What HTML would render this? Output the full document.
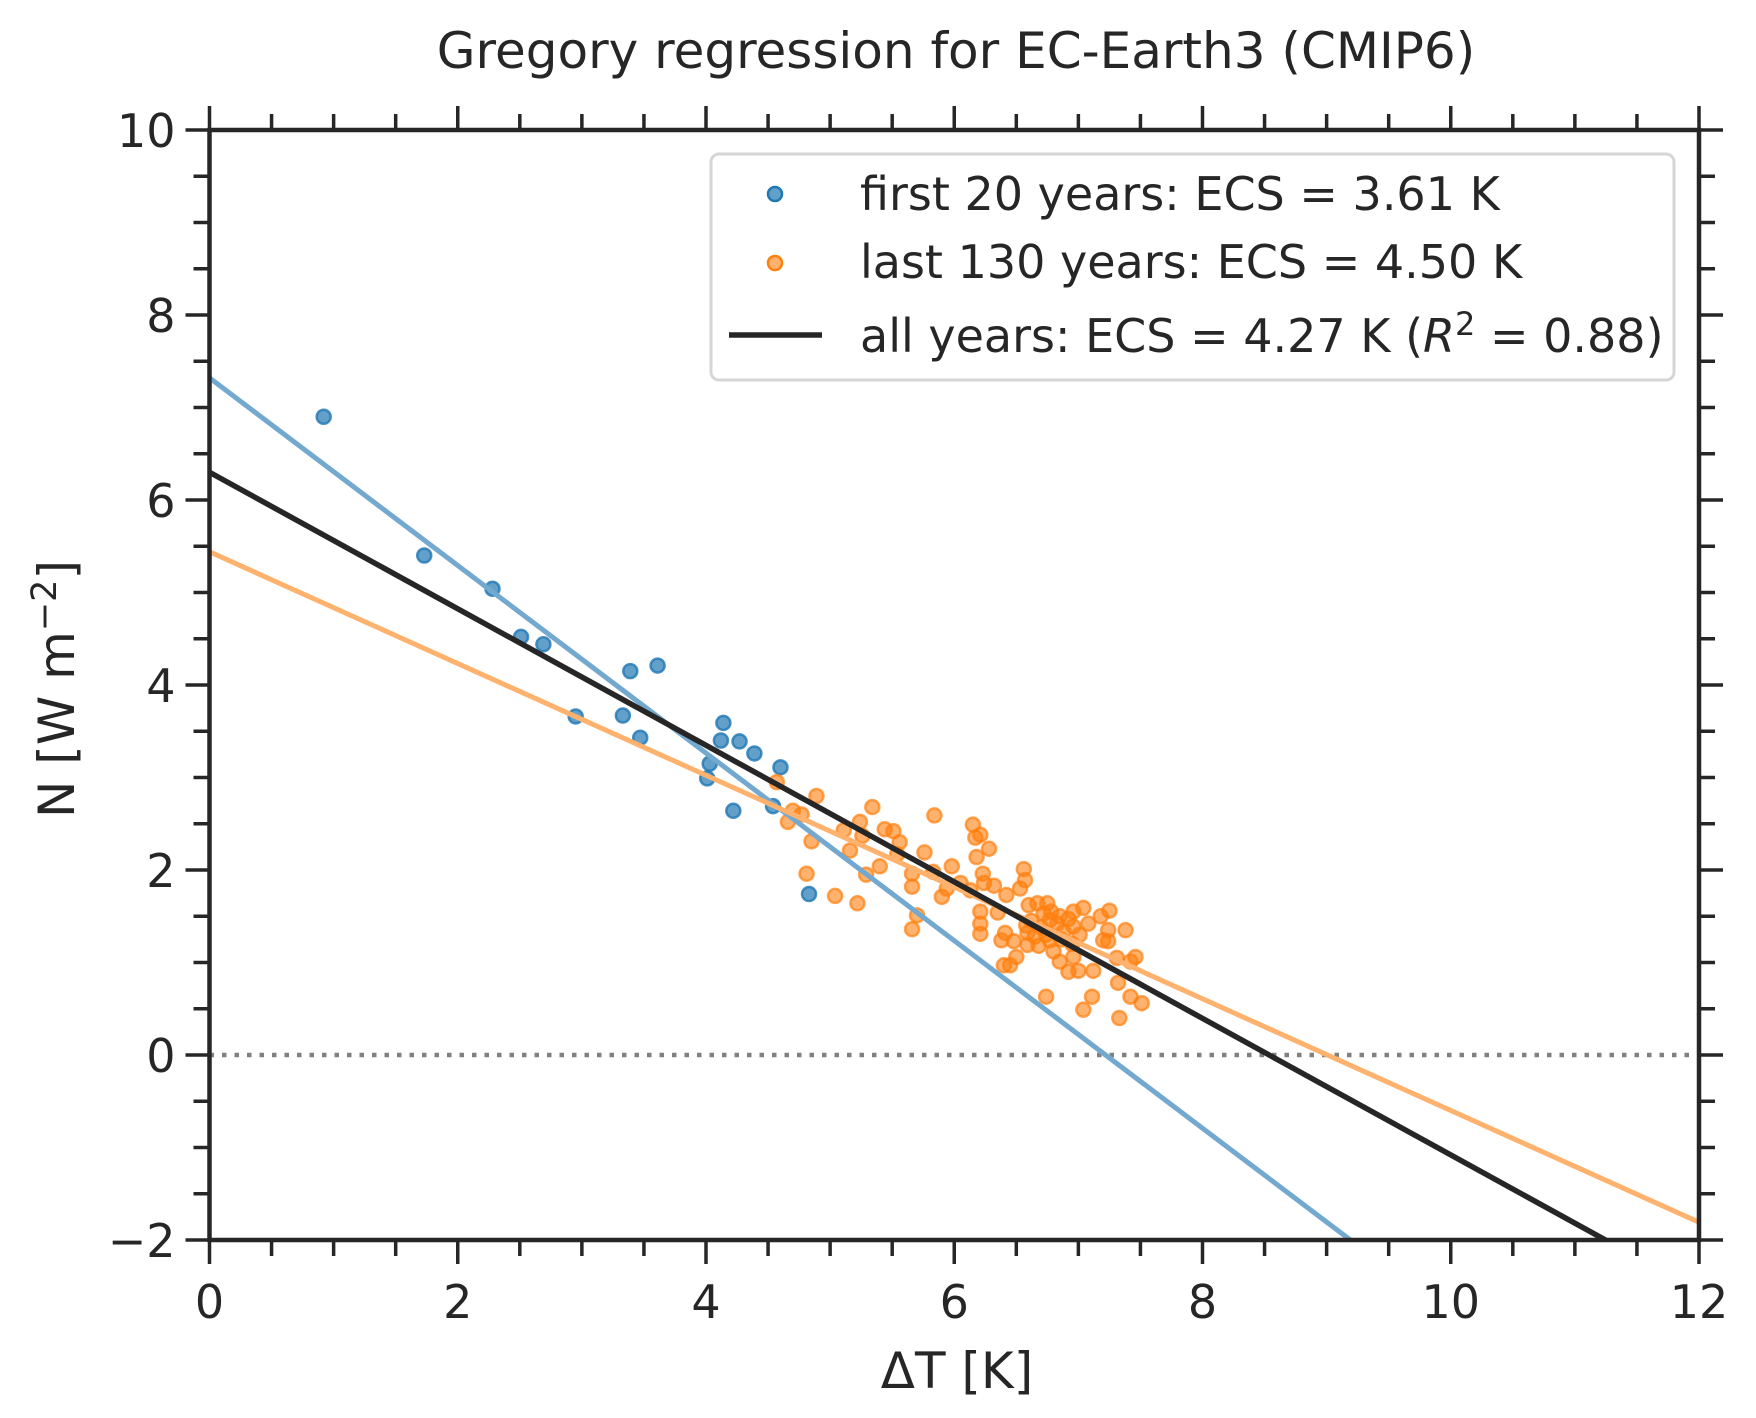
<!DOCTYPE html>
<html><head><meta charset="utf-8"><style>
html,body{margin:0;padding:0;background:#fff;width:1756px;height:1418px;overflow:hidden;}
svg{display:block;font-family:"DejaVu Sans","Liberation Sans",sans-serif;}
</style></head><body>
<svg id="chart" width="1756" height="1418" viewBox="0 0 1756 1418" xmlns="http://www.w3.org/2000/svg">
<text x="956" y="68" font-size="50" fill="#262626" text-anchor="middle">Gregory regression for EC-Earth3 (CMIP6)</text>
<g id="plot"></g>
<text x="957" y="1388" font-size="50" fill="#262626" text-anchor="middle">ΔT [K]</text>
<text transform="translate(74,689) rotate(-90)" font-size="50" fill="#262626" text-anchor="middle">N [W m<tspan dy="-18" font-size="35">−2</tspan><tspan dy="18">]</tspan></text>
</svg>
<script>
const firstT = [0.92,1.73,2.28,2.51,2.69,2.95,3.33,3.39,3.47,3.61,4.01,4.03,4.12,4.14,4.22,4.27,4.39,4.54,4.60,4.83];
const firstN = [6.90,5.40,5.04,4.52,4.44,3.66,3.67,4.15,3.43,4.21,2.99,3.15,3.40,3.59,2.64,3.39,3.26,2.69,3.11,1.74];
const lastT = [4.57,4.89,5.34,5.84,4.70,4.77,4.66,5.11,5.24,5.26,5.44,5.51,5.56,5.54,4.85,5.16,5.76,6.15,6.21,6.17,6.28,6.18,5.98,5.40,5.66,5.66,5.83,5.90,5.94,6.05,6.13,6.23,6.24,6.32,6.56,6.57,6.53,4.81,5.04,5.22,5.29,5.70,5.66,6.21,6.21,6.21,6.35,6.42,6.41,6.38,6.48,6.59,6.59,6.50,6.40,6.45,6.60,6.67,6.75,6.72,6.77,6.85,6.96,7.04,7.25,7.08,7.18,7.24,7.38,7.20,7.24,6.96,7.01,6.77,6.80,6.85,6.92,7.00,7.12,6.96,7.31,7.42,7.46,7.32,7.42,7.51,7.11,7.04,7.33,6.74,6.62,6.70,6.78,6.83,6.88,6.65,6.92,6.58,6.74,6.95,6.86,6.68];
const lastN = [2.95,2.80,2.68,2.59,2.64,2.60,2.52,2.43,2.52,2.37,2.44,2.42,2.30,2.17,2.31,2.21,2.19,2.49,2.38,2.35,2.23,2.14,2.04,2.04,1.96,1.82,1.98,1.71,1.80,1.86,1.78,1.96,1.86,1.83,2.01,1.89,1.80,1.96,1.72,1.64,1.95,1.51,1.36,1.55,1.42,1.31,1.54,1.73,1.32,1.24,1.23,1.32,1.19,1.06,0.97,0.97,1.62,1.64,1.64,1.53,1.46,1.50,1.55,1.59,1.56,1.42,1.50,1.35,1.35,1.24,1.23,1.39,1.30,1.24,1.12,1.01,0.90,0.91,0.91,1.06,1.05,1.01,1.06,0.78,0.63,0.56,0.63,0.49,0.40,0.63,1.45,1.38,1.55,1.42,1.33,1.28,1.47,1.40,1.30,1.20,1.25,1.18];
const fitNames = ['fit-first-20','fit-last-130','fit-all-years'];
const fitIntercepts = [7.32, 5.44, 6.30];
const fitSlopes = [-1.014, -0.604, -0.738];
const xTicks = [0,2,4,6,8,10,12];
const yTicks = [-2,0,2,4,6,8,10];
const yTickLabels = ['−2','0','2','4','6','8','10'];

const X0=209.5, X1=1699, Y0=1240, Y1=130, XMIN=0, XMAX=12, YMIN=-2, YMAX=10;
const sx = v => X0 + (v-XMIN)/(XMAX-XMIN)*(X1-X0);
const sy = v => Y0 - (v-YMIN)/(YMAX-YMIN)*(Y0-Y1);
const NS='http://www.w3.org/2000/svg';
const plot=document.getElementById('plot');
function mk(tag, attrs, parent){const e=document.createElementNS(NS,tag);for(const k in attrs)e.setAttribute(k,attrs[k]);(parent||plot).appendChild(e);return e;}

const defs=mk('defs',{});
const cp=mk('clipPath',{id:'clip'},defs);
mk('rect',{x:X0,y:Y1,width:X1-X0,height:Y0-Y1},cp);

const z=mk('line',{x1:X0,x2:X1,y1:sy(0),y2:sy(0),stroke:'#808080','stroke-width':4.5,'stroke-dasharray':'4.5 8'});



const gF=mk('g',{});


firstT.forEach((t,i)=>{
  const c=mk('circle',{cx:sx(t),cy:sy(firstN[i]),r:7,fill:'#1f77b4','fill-opacity':0.7,stroke:'#1f77b4','stroke-opacity':0.8,'stroke-width':2.5},gF);
  
  
});
const gL=mk('g',{});


lastT.forEach((t,i)=>{
  const c=mk('circle',{cx:sx(t),cy:sy(lastN[i]),r:7,fill:'#ff7f0e','fill-opacity':0.6,stroke:'#ff7f0e','stroke-opacity':0.7,'stroke-width':2.5},gL);
  
  
});

const fitColors=['#74a9cf','#ffb26e','#262626'];
const fitW=[5,5,5.5];
fitIntercepts.forEach((b,i)=>{
  const m=fitSlopes[i];
  const l=mk('line',{x1:sx(0),y1:sy(b),x2:sx(12),y2:sy(b+m*12),stroke:fitColors[i],'stroke-width':fitW[i],'clip-path':'url(#clip)'});
  
  
});

const sp=mk('rect',{x:X0,y:Y1,width:X1-X0,height:Y0-Y1,fill:'none',stroke:'#262626','stroke-width':4.5});



const tg=mk('g',{stroke:'#262626','stroke-width':3.5});


for(let v=0; v<=12.001; v+=0.5){
  const major=Math.abs(v-Math.round(v/2)*2)<1e-6; const L=major?24:16; const x=sx(v);
  mk('line',{x1:x,x2:x,y1:Y0,y2:Y0+L},tg); mk('line',{x1:x,x2:x,y1:Y1,y2:Y1-L},tg);
}
for(let v=-2; v<=10.001; v+=0.5){
  const major=Math.abs(v-Math.round(v/2)*2)<1e-6; const L=major?24:16; const y=sy(v);
  mk('line',{x1:X0,x2:X0-L,y1:y,y2:y},tg); mk('line',{x1:X1,x2:X1+L,y1:y,y2:y},tg);
}
xTicks.forEach(v=>{
  const t=mk('text',{x:sx(v),y:Y0+78,'font-size':46,fill:'#262626','text-anchor':'middle'});
  t.textContent=String(v);
  
  
});
yTicks.forEach((v,i)=>{
  const t=mk('text',{x:X0-34,y:sy(v)+17,'font-size':46,fill:'#262626','text-anchor':'end'});
  t.textContent=yTickLabels[i];
  
  
});

const lg=mk('g',{});


mk('rect',{x:711,y:154,width:963,height:226,rx:8,fill:'#fff','fill-opacity':0.8,stroke:'#d6d6d6','stroke-width':3},lg);
const e1=mk('circle',{cx:775,cy:194,r:7,fill:'#1f77b4','fill-opacity':0.7,stroke:'#1f77b4','stroke-width':2.5},lg);


const e2=mk('circle',{cx:775,cy:263,r:7,fill:'#ff7f0e','fill-opacity':0.6,stroke:'#ff7f0e','stroke-width':2.5},lg);


const e3=mk('line',{x1:729,x2:822,y1:335,y2:335,stroke:'#262626','stroke-width':5.5},lg);


const lt=[['first 20 years: ECS = 3.61 K',210],['last 130 years: ECS = 4.50 K',278]];
lt.forEach(([s,y])=>{
  const t=mk('text',{x:860,y:y,'font-size':46,fill:'#262626'},lg);
  t.textContent=s;
  
  
});
const t3=mk('text',{x:860,y:352,'font-size':46,fill:'#262626'},lg);


t3.innerHTML='all years: ECS = 4.27 K (<tspan font-style="italic">R</tspan><tspan dy="-17" font-size="32">2</tspan><tspan dy="17"> = 0.88)</tspan>';
</script>
</body></html>
